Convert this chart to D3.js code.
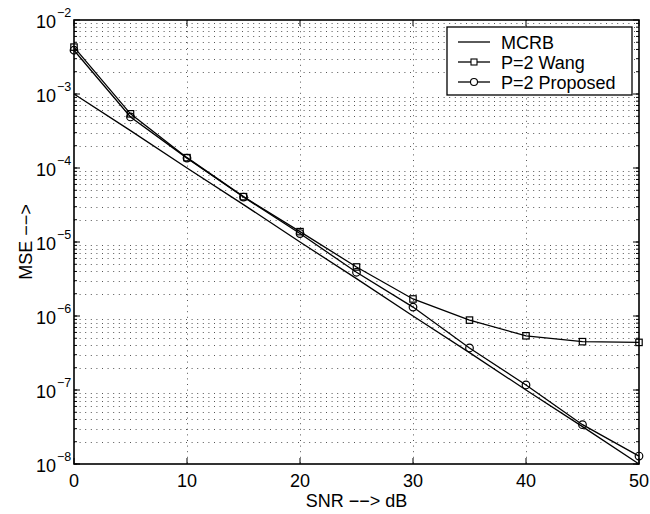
<!DOCTYPE html>
<html>
<head>
<meta charset="utf-8">
<script src="https://d3js.org/d3.v7.min.js"></script>
<style>
  body { margin: 0; background: #fff; }
  text { font-family: "Liberation Sans", Arial, Helvetica, sans-serif; fill: #000; }
</style>
</head>
<body>
<script>
var snr = [0, 5, 10, 15, 20, 25, 30, 35, 40, 45, 50];
var mcrb = [1e-3, 3.2e-4, 1e-4, 3.2e-5, 1e-5, 3.2e-6, 1e-6, 3.2e-7, 1e-7, 3.2e-8, 1e-8];
var wang = [4.3e-3, 5.4e-4, 1.38e-4, 4.1e-5, 1.38e-5, 4.6e-6, 1.7e-6, 8.8e-7, 5.4e-7, 4.5e-7, 4.4e-7];
var proposed = [3.9e-3, 4.9e-4, 1.36e-4, 4.05e-5, 1.3e-5, 3.9e-6, 1.32e-6, 3.7e-7, 1.17e-7, 3.4e-8, 1.28e-8];
var xTicks = [0, 10, 20, 30, 40, 50];
var yExps = [-2, -3, -4, -5, -6, -7, -8];
var legendNames = ["MCRB", "P=2 Wang", "P=2 Proposed"];

var margin = {top: 20, right: 11, bottom: 50, left: 74},
    width = 650 - margin.left - margin.right,
    height = 514 - margin.top - margin.bottom;

var x = d3.scaleLinear().domain([0, 50]).range([0, width]);
var y = d3.scaleLog().domain([1e-8, 1e-2]).range([height, 0]);

var svg = d3.select("body").append("svg")
    .attr("width", 650)
    .attr("height", 514);

var g = svg.append("g")
    .attr("transform", "translate(" + margin.left + "," + margin.top + ")");

// grid
var minor = [];
yExps.slice(1).forEach((e) => {
  for (var k = 1; k < 10; k++) minor.push(k * Math.pow(10, e));
});

g.selectAll(".hgrid")
    .data(minor.filter((v, i) => i % 9 != 0))
  .enter().append("line")
    .attr("class", "hgrid")
    .attr("x1", 0).attr("x2", width)
    .attr("y1", (d) => Math.round(y(d)) + 0.5)
    .attr("y2", (d) => Math.round(y(d)) + 0.5)
    .attr("stroke", "#555").attr("stroke-width", 1)
    .attr("stroke-dasharray", "1,4.6");

g.selectAll(".vgrid")
    .data(xTicks.slice(1, -1))
  .enter().append("line")
    .attr("class", "vgrid")
    .attr("y1", 0).attr("y2", height)
    .attr("x1", (d) => Math.round(x(d)) + 0.5)
    .attr("x2", (d) => Math.round(x(d)) + 0.5)
    .attr("stroke", "#555").attr("stroke-width", 1)
    .attr("stroke-dasharray", "1,4.6");

// series
var line = d3.line()
    .x((d, i) => x(snr[i]))
    .y((d) => y(d));

[mcrb, wang, proposed].forEach((s) => {
  g.append("path")
      .datum(s)
      .attr("d", line)
      .attr("fill", "none")
      .attr("stroke", "#000")
      .attr("stroke-width", 1.3);
});

g.selectAll(".sq")
    .data(wang)
  .enter().append("rect")
    .attr("class", "sq")
    .attr("x", (d, i) => x(snr[i]) - 3.2)
    .attr("y", (d) => y(d) - 3.2)
    .attr("width", 6.4).attr("height", 6.4)
    .attr("fill", "none").attr("stroke", "#000").attr("stroke-width", 1.2);

g.selectAll(".circ")
    .data(proposed)
  .enter().append("circle")
    .attr("class", "circ")
    .attr("cx", (d, i) => x(snr[i]))
    .attr("cy", (d) => y(d))
    .attr("r", 3.8)
    .attr("fill", "none").attr("stroke", "#000").attr("stroke-width", 1.2);

// axes box and ticks
g.append("rect")
    .attr("width", width).attr("height", height)
    .attr("fill", "none").attr("stroke", "#000").attr("stroke-width", 1.6);

g.selectAll(".xt")
    .data(xTicks)
  .enter().append("path")
    .attr("class", "xt")
    .attr("d", (d) => "M" + x(d) + "," + height + "v-6M" + x(d) + ",0v6")
    .attr("stroke", "#000").attr("stroke-width", 1);

g.selectAll(".ymin")
    .data(minor)
  .enter().append("path")
    .attr("class", "ymin")
    .attr("d", (d) => "M0," + y(d) + "h3M" + width + "," + y(d) + "h-3")
    .attr("stroke", "#000").attr("stroke-width", 1);

g.selectAll(".ymaj")
    .data(yExps)
  .enter().append("path")
    .attr("class", "ymaj")
    .attr("d", (d) => "M0," + y(Math.pow(10, d)) + "h6M" + width + "," + y(Math.pow(10, d)) + "h-6")
    .attr("stroke", "#000").attr("stroke-width", 1);

// tick labels
g.selectAll(".xl")
    .data(xTicks)
  .enter().append("text")
    .attr("class", "xl")
    .attr("x", (d) => x(d))
    .attr("y", height + 23)
    .attr("text-anchor", "middle")
    .style("font-size", "18px")
    .text((d) => d);

var yl = g.selectAll(".yl")
    .data(yExps)
  .enter().append("g")
    .attr("class", "yl")
    .attr("transform", (d) => "translate(0," + y(Math.pow(10, d)) + ")");

yl.append("text")
    .attr("x", -18).attr("y", 8)
    .attr("text-anchor", "end")
    .style("font-size", "18px")
    .text("10");

yl.append("text")
    .attr("x", -17).attr("y", -3)
    .style("font-size", "12.5px")
    .text((d) => "\u2212" + (-d));

// axis titles
g.append("text")
    .attr("x", width / 2).attr("y", height + 43)
    .attr("text-anchor", "middle")
    .style("font-size", "18px")
    .text("SNR \u2212\u2212> dB");

g.append("text")
    .attr("transform", "translate(" + (-42) + "," + (height / 2) + ")rotate(-90)")
    .attr("text-anchor", "middle")
    .style("font-size", "18px")
    .text("MSE \u2212\u2212>");

// legend
var lg = svg.append("g").attr("transform", "translate(447,27)");

lg.append("rect")
    .attr("width", 185).attr("height", 68)
    .attr("fill", "#fff").attr("stroke", "#000").attr("stroke-width", 1.3);

var item = lg.selectAll(".item")
    .data(legendNames)
  .enter().append("g")
    .attr("class", "item")
    .attr("transform", (d, i) => "translate(0," + (15 + i * 20) + ")");

item.append("line")
    .attr("x1", 11).attr("x2", 43)
    .attr("stroke", "#000").attr("stroke-width", 1.3);

item.filter((d, i) => i == 1).append("rect")
    .attr("x", 24).attr("y", -3).attr("width", 6).attr("height", 6)
    .attr("fill", "#fff").attr("stroke", "#000").attr("stroke-width", 1.1);

item.filter((d, i) => i == 2).append("circle")
    .attr("cx", 27).attr("r", 3.5)
    .attr("fill", "#fff").attr("stroke", "#000").attr("stroke-width", 1.1);

item.append("text")
    .attr("x", 54).attr("y", 6.5)
    .style("font-size", "18px")
    .text((d) => d);
</script>
</body>
</html>
